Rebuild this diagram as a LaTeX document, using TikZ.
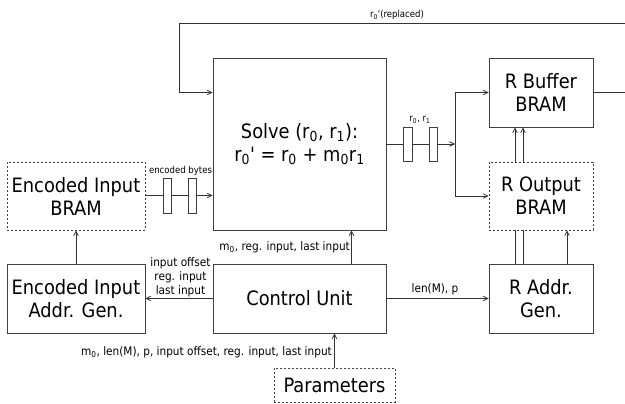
\documentclass[tikz,border=0pt]{standalone}
\usepackage{fontspec}
\setmainfont{DejaVu Sans Condensed}
\usetikzlibrary{arrows.meta}

\begin{document}
\begin{tikzpicture}[x=1pt,y=-1pt,
  every node/.style={inner sep=0pt},
  blk/.style={draw=black!75,line width=0.9pt,align=center,font=\fontsize{19.8}{23}\selectfont},
  mem/.style={blk,dashed,dash pattern=on 2pt off 2pt,line width=0.7pt},
  reg/.style={draw=black!75,line width=0.8pt,minimum width=8pt,minimum height=34pt},
  wire/.style={draw=black!80,line width=0.8pt},
  arr/.style={wire,-{Straight Barb[length=4.5pt,width=4.5pt]}},
  lbl/.style={font=\fontsize{11.7}{14}\selectfont,align=center},
  tiny/.style={font=\fontsize{9.5}{11}\selectfont}]
\useasboundingbox (0,0) rectangle (625,404);
% blocks
\node [blk,minimum width=173pt,minimum height=172pt] (solve) at (299.5,144)
  {Solve (r\textsubscript{0}, r\textsubscript{1}):\\r\textsubscript{0}\textquotesingle{} = r\textsubscript{0} + m\textsubscript{0}r\textsubscript{1}};
\node [mem,minimum width=138pt,minimum height=68pt] (ebram) at (76,196) {Encoded Input\\BRAM};
\node [blk,minimum width=138pt,minimum height=69pt] (eaddr) at (76,298.5) {Encoded Input\\Addr. Gen.};
\node [blk,minimum width=173pt,minimum height=69pt] (cu) at (299.5,298.5) {Control Unit};
\node [blk,minimum width=104pt,minimum height=69pt] (rbuf) at (541,92.5) {R Buffer\\BRAM};
\node [mem,minimum width=104pt,minimum height=68pt] (rout) at (541,196) {R Output\\BRAM};
\node [blk,minimum width=104pt,minimum height=69pt] (raddr) at (541,298.5) {R Addr.\\Gen.};
\node [mem,minimum width=121pt,minimum height=34pt] (params) at (334.5,385) {Parameters};
% pipeline registers
\node [reg,minimum height=35pt] (fa) at (167,195.5) {};
\node [reg,minimum height=35pt] (fb) at (192,195.5) {};
\node [reg,minimum width=9pt] (fc) at (407.5,144) {};
\node [reg] (fd) at (433,144) {};
\coordinate (split) at (455,144);
\coordinate (fbR) at (640,23);
\coordinate (fbL) at (179,23);
% encoded input path
\draw [wire] (ebram.east |- fa.west) -- (fa.west);
\draw [wire] (fa.east) -- (fb.west);
\draw [arr] (fb.east) -- (fb.east -| solve.west);
\node [tiny,anchor=south] at (180.5,176) {encoded bytes};
\draw [arr] (eaddr.north) -- (ebram.south);
% solve output
\draw [wire] (solve.east) -- (fc.west);
\draw [wire] (fc.east) -- (fd.west);
\draw [arr] (fd.east) -- (split);
\node [tiny,anchor=south] at (420,124) {r\textsubscript{0}, r\textsubscript{1}};
\draw [arr] (split) |- (rbuf.west);
\draw [arr] (split) |- (rout.west);
% feedback
\draw [arr] (rbuf.east) -| (fbR) -- (fbL) |- (solve.west |- rbuf.east);
\node [tiny,anchor=south] at (397,20) {r\textsubscript{0}\textquotesingle(replaced)};
% control unit
\draw [arr] (cu.west) -- (eaddr.east);
\node [lbl,anchor=south] at (180.5,297) {input offset\\reg. input\\last input};
\draw [arr] ([xshift=52pt]cu.north) -- ([xshift=52pt]solve.south);
\node [lbl,anchor=east] at (350,247) {m\textsubscript{0}, reg. input, last input};
\draw [arr] (cu.east) -- (raddr.west);
\node [lbl,anchor=south] at (435,295) {len(M), p};
\draw [arr] (params.north) -- (params.north |- cu.south);
\node [lbl,anchor=east] at (332,352) {m\textsubscript{0}, len(M), p, input offset, reg. input, last input};
% R address generator
\draw [wire] ([xshift=-26pt]raddr.north) -- ([xshift=-26pt]rout.south);
\draw [wire] ([xshift=-18pt]raddr.north) -- ([xshift=-18pt]rout.south);
\draw [arr] ([xshift=26pt]raddr.north) -- ([xshift=26pt]rout.south);
\draw [arr] ([xshift=-26pt]rout.north) -- ([xshift=-26pt]rbuf.south);
\draw [arr] ([xshift=-18pt]rout.north) -- ([xshift=-18pt]rbuf.south);
\end{tikzpicture}
\end{document}
